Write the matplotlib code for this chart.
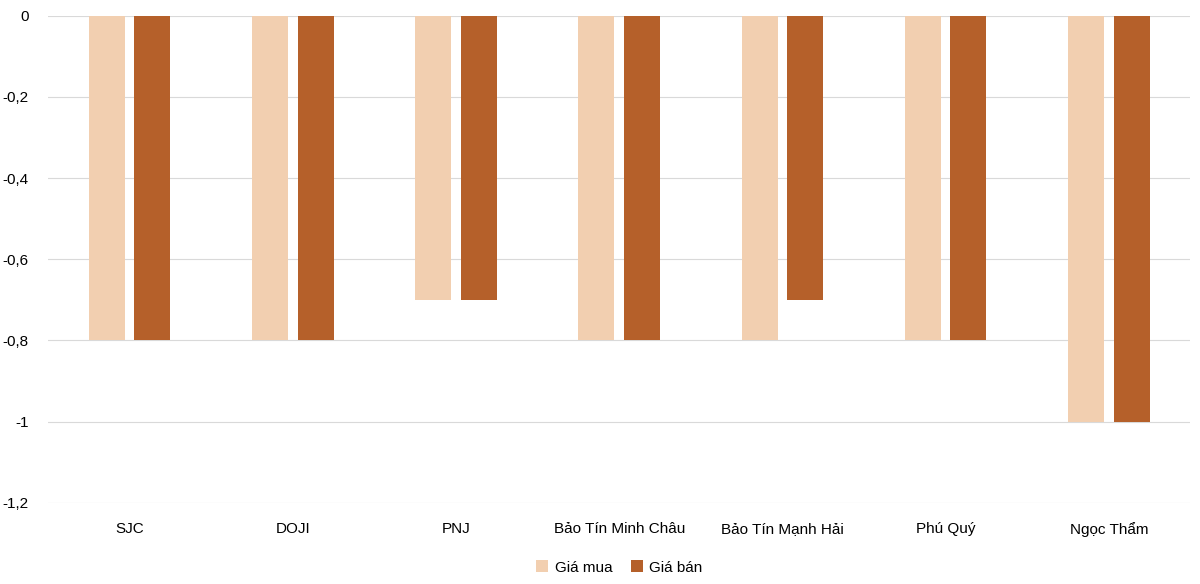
import matplotlib
matplotlib.use("Agg")
import matplotlib.pyplot as plt
import numpy as np

categories = ["SJC", "DOJI", "PNJ", "Bảo Tín Minh Châu", "Bảo Tín Mạnh Hải", "Phú Quý", "Ngọc Thẩm"]
gia_mua = [-0.8, -0.8, -0.7, -0.8, -0.8, -0.8, -1.0]
gia_ban = [-0.8, -0.8, -0.7, -0.8, -0.7, -0.8, -1.0]
yticks = [0, -0.2, -0.4, -0.6, -0.8, -1.0, -1.2]

plt.rcParams["font.family"] = ["Liberation Sans", "DejaVu Sans"]
fig = plt.figure(figsize=(12, 5.84), dpi=100)
ax = fig.add_axes([0.04, 0.139, 0.952, 0.834])

x = np.arange(len(categories))
w = 0.22
ax.bar(x - 0.14, gia_mua, w, color="#F2CFB0", label="Giá mua", zorder=3)
ax.bar(x + 0.14, gia_ban, w, color="#B5602A", label="Giá bán", zorder=3)

ax.set_ylim(-1.2, 0)
ax.set_xlim(-0.5, len(categories) - 0.5)
ax.set_yticks(yticks)
ax.set_yticklabels([f"{v:g}".replace(".", ",") for v in yticks])
ax.set_xticks(x)
ax.set_xticklabels(categories)
ax.tick_params(axis="x", length=0, pad=14, labelsize=11)
ax.tick_params(axis="y", length=0, pad=14, labelsize=11)
ax.grid(axis="y", color="#D9D9D9", linewidth=0.8, zorder=0)
for s in ax.spines.values():
    s.set_visible(False)

ax.legend(loc="upper center", bbox_to_anchor=(0.5, -0.09), ncol=2, frameon=False,
          fontsize=11, handlelength=0.8, handleheight=0.8, columnspacing=1.2, handletextpad=0.4)

fig.savefig("out.png", dpi=100)
